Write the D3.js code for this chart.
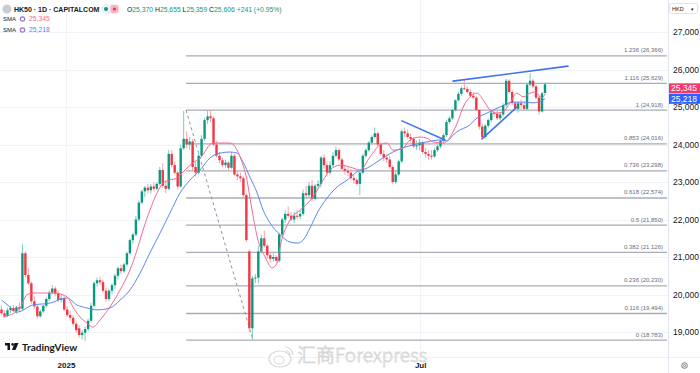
<!DOCTYPE html>
<html><head><meta charset="utf-8">
<script src="https://cdn.jsdelivr.net/npm/d3@7/dist/d3.min.js"></script>
<style>html,body{margin:0;padding:0;background:#fff;}svg{display:block;font-family:"Liberation Sans",Arial,sans-serif;}</style>
</head><body><div id="chart"></div>
<script>
// ---------------- DATA ----------------
const opens = [19600,19500,19430,19580,19640,19560,19660,19620,21100,20520,20300,19820,19680,19420,19550,19700,19880,20050,20160,20020,19860,19900,19600,19450,19380,19220,19100,18920,18980,19080,19300,19700,20300,20380,20330,20100,19880,20100,20250,20500,20700,20620,20800,21100,21450,21600,22000,22450,22750,22850,22780,22880,22820,22950,23320,22900,22820,23750,23450,23250,22880,23900,24150,24000,24080,23400,23250,23700,24150,24650,24750,24700,24000,23700,23580,23450,23520,23380,23700,23200,23150,23100,22650,21150,19100,20430,20450,21150,21500,21300,21050,20950,21000,20900,21600,22000,22150,22100,22000,22100,22080,22150,22700,22650,22900,22550,22900,22950,23650,23450,23250,23450,23700,23850,23600,23350,23300,23250,23100,23050,22950,23250,23700,23850,24050,24200,24300,24000,23750,23650,23600,23400,23000,23200,23550,24350,24300,24200,24150,23950,23980,24050,23800,23750,23700,23680,23850,23950,24100,24250,24600,24700,24920,25180,25350,25500,25480,25400,25300,25250,24920,24480,24200,24500,24650,24850,24820,24700,24800,25050,25700,25400,25100,24950,25100,25050,24950,25600,25700,25550,25250,24880,25370];
const highs = [19700,19580,19650,19700,19720,19700,19780,21350,21150,20700,20350,19950,19720,19600,19720,19920,20100,20250,20220,20100,20000,19980,19700,19560,19450,19300,19180,19050,19150,19360,19780,20350,20450,20480,20400,20180,20150,20300,20550,20750,20800,20850,21150,21500,21650,22100,22500,22800,22900,22950,22950,23000,23000,23400,23500,23050,23850,23850,23550,23300,24000,24900,24350,24200,24150,23550,23800,24250,24700,24900,24920,24750,24100,23800,23650,23600,23550,23800,23750,23300,23250,23150,22700,21200,20500,20550,21300,21600,21700,21350,21150,21100,21050,21650,22050,22250,22350,22200,22200,22250,22250,22800,22900,23000,23050,22950,23050,23700,23750,23550,23550,23800,23950,23900,23650,23450,23400,23350,23200,23100,23300,23750,23900,24100,24250,24450,24350,24050,23850,23750,23700,23450,23300,23600,24400,24450,24400,24300,24200,24100,24150,24100,23900,23850,23850,23900,24000,24150,24300,24650,24750,24950,25200,25400,25550,25720,25550,25480,25400,25300,24950,24550,24550,24700,24900,24950,24900,24850,25100,25750,25750,25450,25150,25150,25200,25150,25650,25900,25750,25600,25300,25400,25655];
const lows = [19450,19380,19400,19500,19520,19480,19560,19580,20450,20250,19750,19620,19350,19380,19500,19650,19820,20000,19950,19800,19780,19550,19400,19300,19150,18980,18850,18800,18760,19020,19250,19650,20200,20250,20050,19800,19820,20000,20150,20400,20550,20580,20750,21050,21350,21550,21950,22400,22600,22700,22700,22750,22780,22900,22850,22700,22780,23400,23200,22800,22850,23850,23900,23850,23300,23150,23200,23650,24100,24550,24600,23950,23650,23500,23400,23380,23300,23350,23150,23050,23000,22600,21400,19000,18783,20300,20300,21100,21250,20950,20850,20880,20850,20850,21550,21900,22050,21950,21900,22000,22000,22100,22550,22600,22500,22500,22800,22850,23350,23150,23200,23400,23650,23550,23300,23200,23150,23050,22950,22900,22650,23200,23650,23800,24000,24150,23950,23700,23550,23500,23350,22950,22950,23150,23500,24200,24150,24050,23900,23850,23850,23750,23650,23600,23600,23650,23800,23900,24050,24200,24550,24650,24880,25150,25300,25450,25350,25250,25200,24880,24400,24150,24150,24450,24600,24750,24650,24650,24750,25000,25350,25050,24900,24850,24950,24900,24900,25550,25500,25200,24800,24850,25359];
const closes = [19500,19430,19580,19640,19560,19660,19620,21100,20520,20300,19820,19680,19420,19550,19700,19880,20050,20160,20020,19860,19900,19600,19450,19380,19220,19050,18920,18980,19080,19300,19700,20300,20380,20330,20100,19880,20100,20250,20500,20700,20620,20800,21100,21450,21600,22000,22450,22750,22850,22780,22880,22820,22950,23320,22900,22820,23750,23450,23250,22880,23900,24150,24000,24080,23400,23250,23700,24150,24650,24750,24700,24000,23700,23580,23450,23520,23380,23700,23200,23150,23100,22650,21450,19100,20430,20450,21150,21500,21300,21050,20950,21000,20900,21600,22000,22150,22100,22000,22100,22080,22150,22700,22650,22900,22550,22900,22950,23650,23450,23250,23450,23700,23850,23600,23350,23300,23250,23100,23050,22950,23250,23700,23850,24050,24200,24300,24000,23750,23650,23600,23400,23000,23200,23550,24350,24300,24200,24150,23950,23980,24050,23800,23750,23700,23680,23850,23950,24100,24250,24600,24700,24920,25180,25350,25500,25480,25400,25300,25250,24920,24480,24200,24500,24650,24850,24820,24700,24800,25050,25700,25400,25100,24950,25100,25050,24950,25600,25700,25550,25250,24880,25365,25606];

// SMA curves (bar index, price)
const smaFastBars = [0.5,2.8,6.2,8.5,10.5,15.2,17.9,20.6,22.3,23.9,26.3,28.6,30.6,33,36.3,39.7,43,45.4,47.4,49.7,52.1,54.1,56.4,58.8,60.8,64.1,66.5,70.8,76.5,79.9,82.2,83.9,85.9,88.3,90.6,92.3,93.3,96.6,100,104.3,107.7,110,113.4,116.7,120.1,123.4,126.8,129.1,131.1,134.5,136.8,140.2,142.5,144.5,147.9,150.2,152.6,154.6,156.9,159.3,161.3,163.6,166,167.9,170.3,172.6,174.7,177,178.7,181,182];
const smaFastVals = [19400,19450,19640,19990,20040,20040,20040,19990,19910,19670,19400,19240,19130,19320,19670,20120,20650,21190,21720,22250,22710,22970,23050,23110,23270,23510,23640,24040,24040,23670,23050,22250,21450,21000,20710,20840,21270,21990,22250,22600,23050,23320,23450,23400,23320,23670,23990,24040,23850,23910,24120,24200,24170,24070,24040,24200,24570,25000,25270,25370,25190,24920,24840,24870,25110,25370,25270,25370,25400,25240,25345];
const smaSlowBars = [0,2.8,5.2,10.5,16.2,21.9,25.3,28.6,32,36.3,39.7,43,46.4,49.7,53.1,56.4,59.8,63.1,66.5,69.8,73.2,76.5,78.9,80.9,83.2,85.6,87.6,89.9,93.3,96.6,99.3,101,103.3,105.7,109,112.4,115.7,119,122.4,126.8,131.1,134.5,137.8,142.5,146.9,149.2,151.2,153.5,155.9,159.3,162.6,166.9,171.3,174.7,178,182];
const smaSlowVals = [19850,19670,19530,19720,19770,19910,19720,19640,19590,19640,19850,20120,20570,21110,21640,22170,22710,23050,23320,23640,23770,23800,23770,23530,23130,22710,22250,21910,21590,21400,21370,21450,21770,22170,22570,22870,23050,23270,23370,23590,23800,23910,23990,24070,24120,24090,24250,24390,24470,24710,24840,25000,25130,25130,25110,25218];

const priceTicks = [19000,20000,21000,22000,23000,24000,25000,26000,27000];
const timeTickBars = [21.6, 140.2];
const timeTickLabels = ["2025", "Jul"];

const fibRatios = ["1.236","1.116","1","0.853","0.736","0.618","0.5","0.382","0.236","0.116","0"];
const fibValues = [26366,25629,24918,24016,23298,22574,21850,21126,20230,19494,18783];
const fibStart = {bar: 61.8, price: 24918};
const fibEnd = {bar: 84.2, price: 18783};

const trendLines = [
  [{bar:151.2, price:25690},{bar:189.7, price:26090}],
  [{bar:134.1, price:24630},{bar:148.5, price:24120}],
  [{bar:160.9, price:24150},{bar:172.6, price:25000}]
];
const smaLast = {fast: 25345, slow: 25218};

// ---------------- LAYOUT ----------------
const W = 700, H = 373, plotR = 668, axisY = 357;
const GREEN = "#089981", RED = "#f23645";
const PINK = "#f26a93", PINKBOX = "#ef3a6c", BLUE = "#5b86f2", BLUEBOX = "#2962ff", TEXT = "#131722";
const fmt = d3.format(",");

const svg = d3.select("#chart").append("svg").attr("width", W).attr("height", H);
svg.append("rect").attr("width", W).attr("height", H).attr("fill", "#fff");

const y = d3.scaleLinear().domain([19000, 27000]).range([332, 32]);
const x = d3.scaleLinear().domain([0, closes.length - 1]).range([1.5, 545]);

svg.append("defs").append("clipPath").attr("id", "plot")
  .append("rect").attr("x", 0).attr("y", 0).attr("width", plotR).attr("height", axisY);

// grid
const grid = svg.append("g");
grid.selectAll("line.h").data(priceTicks).join("line")
  .attr("x1", 0).attr("x2", plotR).attr("y1", d => Math.round(y(d)) + 0.5).attr("y2", d => Math.round(y(d)) + 0.5)
  .attr("stroke", "#f0f3fa").attr("stroke-width", 1);
grid.selectAll("line.v").data(timeTickBars).join("line")
  .attr("x1", d => Math.round(x(d)) + 0.5).attr("x2", d => Math.round(x(d)) + 0.5).attr("y1", 0).attr("y2", axisY)
  .attr("stroke", "#f0f3fa").attr("stroke-width", 1);

const plot = svg.append("g").attr("clip-path", "url(#plot)");

// fib levels
const fx0 = x(fibStart.bar);
plot.selectAll("line.fib").data(fibValues).join("line")
  .attr("x1", fx0).attr("x2", plotR - 1)
  .attr("y1", d => y(d)).attr("y2", d => y(d))
  .attr("stroke", "#a9acb4").attr("stroke-width", 1.3);
plot.selectAll("text.fib").data(fibValues).join("text")
  .attr("x", 663).attr("y", d => y(d) - 3.5).attr("text-anchor", "end")
  .attr("font-size", 6).attr("fill", "#6a6d78")
  .text((d, i) => `${fibRatios[i]} (${fmt(d)})`);
plot.append("line")
  .attr("x1", fx0).attr("y1", y(fibStart.price)).attr("x2", x(fibEnd.bar)).attr("y2", y(fibEnd.price))
  .attr("stroke", "#8f929b").attr("stroke-width", 1).attr("stroke-dasharray", "3,3");

// candles
const idx = d3.range(closes.length);
plot.selectAll("line.wick").data(idx).join("line")
  .attr("x1", i => x(i)).attr("x2", i => x(i))
  .attr("y1", i => y(highs[i])).attr("y2", i => y(lows[i]))
  .attr("stroke", i => closes[i] >= opens[i] ? "#7fcbbd" : "#f7a3aa").attr("stroke-width", 1);
plot.selectAll("rect.body").data(idx).join("rect")
  .attr("x", i => x(i) - 1.2).attr("width", 2.4)
  .attr("y", i => y(Math.max(opens[i], closes[i])))
  .attr("height", i => Math.max(1, Math.abs(y(opens[i]) - y(closes[i]))))
  .attr("fill", i => closes[i] >= opens[i] ? GREEN : RED);

// SMA lines
const line = d3.line().x(d => x(d[0])).y(d => y(d[1])).curve(d3.curveMonotoneX);
plot.append("path").datum(smaSlowBars.map((b, i) => [b, smaSlowVals[i]]))
  .attr("d", line).attr("fill", "none").attr("stroke", BLUE).attr("stroke-width", 1);
plot.append("path").datum(smaFastBars.map((b, i) => [b, smaFastVals[i]]))
  .attr("d", line).attr("fill", "none").attr("stroke", PINK).attr("stroke-width", 1);

// trend lines
plot.selectAll("line.trend").data(trendLines).join("line")
  .attr("x1", d => x(d[0].bar)).attr("y1", d => y(d[0].price))
  .attr("x2", d => x(d[1].bar)).attr("y2", d => y(d[1].price))
  .attr("stroke", "#3f73f0").attr("stroke-width", 1.6).attr("stroke-linecap", "round");

// right axis
svg.append("line").attr("x1", plotR + 0.5).attr("x2", plotR + 0.5).attr("y1", 0).attr("y2", H).attr("stroke", "#e0e3eb");
svg.append("line").attr("x1", 0).attr("x2", W).attr("y1", axisY + 0.5).attr("y2", axisY + 0.5).attr("stroke", "#eef0f4");
const ay = svg.append("g").attr("transform", `translate(${plotR},0)`)
  .call(d3.axisRight(y).tickValues(priceTicks).tickFormat(fmt).tickSize(0).tickPadding(5));
ay.select(".domain").remove();
ay.selectAll("text").attr("font-size", 8.5).attr("fill", TEXT).attr("font-family", "Liberation Sans, Arial, sans-serif");

// bottom axis
const ax = svg.append("g").attr("transform", `translate(0,${axisY})`)
  .call(d3.axisBottom(x).tickValues(timeTickBars).tickFormat((d, i) => timeTickLabels[i]).tickSize(0).tickPadding(5));
ax.select(".domain").remove();
ax.selectAll("text").attr("font-size", 8).attr("fill", TEXT).attr("font-weight", 600).attr("font-family", "Liberation Sans, Arial, sans-serif");

// price labels on axis
const slowC = y(smaLast.slow);
const fastC = Math.min(y(smaLast.fast), slowC - 10.5);
[[smaLast.fast, fastC, PINKBOX], [smaLast.slow, slowC, BLUEBOX]].forEach(([v, c, col]) => {
  svg.append("rect").attr("x", plotR + 1).attr("y", c - 5).attr("width", W - plotR - 1).attr("height", 10).attr("fill", col);
  svg.append("text").attr("x", plotR + 16).attr("y", c + 3).attr("text-anchor", "middle")
    .attr("font-size", 8.5).attr("fill", "#fff").text(fmt(v));
});

// HKD box + gear
svg.append("rect").attr("x", 669.5).attr("y", 3.5).attr("width", 28).attr("height", 10).attr("rx", 2)
  .attr("fill", "#fff").attr("stroke", "#e0e3eb");
svg.append("text").attr("x", 672).attr("y", 11).attr("font-size", 5.5).attr("fill", TEXT).text("HKD");
svg.append("text").attr("x", 691).attr("y", 11).attr("font-size", 5).attr("fill", TEXT).text("▾");
svg.append("circle").attr("cx", 684.5).attr("cy", 365.5).attr("r", 2.8).attr("fill", "none").attr("stroke", "#555").attr("stroke-width", 0.8);
svg.append("circle").attr("cx", 684.5).attr("cy", 365.5).attr("r", 1).attr("fill", "none").attr("stroke", "#555").attr("stroke-width", 0.7);

// header legend
const last = closes.length - 1;
const chg = closes[last] - closes[last - 1];
const pct = chg / closes[last - 1] * 100;
svg.append("circle").attr("cx", 7).attr("cy", 9).attr("r", 4.5).attr("fill", "#c9ccd3");
svg.append("text").attr("x", 14).attr("y", 11.5).attr("font-size", 7).attr("fill", TEXT).attr("font-weight", 600)
  .text("HK50 · 1D · CAPITALCOM");
svg.append("rect").attr("x", 101).attr("y", 4).attr("width", 18).attr("height", 10).attr("rx", 5).attr("fill", "#eef0f4");
svg.append("circle").attr("cx", 106).attr("cy", 9).attr("r", 2).attr("fill", GREEN);
svg.append("rect").attr("x", 110.5).attr("y", 5).attr("width", 8).attr("height", 8).attr("rx", 2).attr("fill", "#f9b3c2");
svg.append("circle").attr("cx", 114.5).attr("cy", 9).attr("r", 1.6).attr("fill", RED);
const ohlc = svg.append("text").attr("x", 127).attr("y", 11.5).attr("font-size", 6.8).attr("fill", TEXT);
[["O", opens[last]], ["H", highs[last]], ["L", lows[last]], ["C", closes[last]]].forEach(([k, v]) => {
  ohlc.append("tspan").text(k);
  ohlc.append("tspan").attr("fill", GREEN).text(fmt(v) + " ");
});
ohlc.append("tspan").attr("fill", GREEN).text(`${chg >= 0 ? "+" : ""}${fmt(chg)} (${chg >= 0 ? "+" : ""}${pct.toFixed(2)}%)`);

[[smaLast.fast, PINK, 21], [smaLast.slow, BLUE, 32]].forEach(([v, col, yy]) => {
  svg.append("text").attr("x", 3).attr("y", yy).attr("font-size", 6).attr("fill", TEXT).text("SMA");
  svg.append("circle").attr("cx", 22.5).attr("cy", yy - 2).attr("r", 2.2).attr("fill", "none").attr("stroke", "#9575cd").attr("stroke-width", 1.2);
  svg.append("text").attr("x", 29).attr("y", yy).attr("font-size", 6.8).attr("fill", col).text(fmt(v));
});

// TradingView logo
const logo = svg.append("g").attr("transform", "translate(5,343)");
logo.append("rect").attr("x", 0).attr("y", 0).attr("width", 5).attr("height", 2.5).attr("fill", TEXT);
logo.append("rect").attr("x", 2.5).attr("y", 0).attr("width", 2.5).attr("height", 7).attr("fill", TEXT);
logo.append("circle").attr("cx", 7.6).attr("cy", 1.4).attr("r", 1.3).attr("fill", TEXT);
logo.append("path").attr("d", "M9.5,0 L13.5,0 L10.5,7 L7,7 Z").attr("fill", TEXT);
svg.append("text").attr("x", 22).attr("y", 350.5).attr("font-size", 10).attr("font-weight", 700).attr("fill", TEXT)
  .attr("font-family", "Lato, Liberation Sans, sans-serif").text("TradingView");

// watermark
const wm = svg.append("g").attr("opacity", 0.85);
wm.append("ellipse").attr("cx", 280).attr("cy", 359).attr("rx", 11).attr("ry", 8).attr("fill", "#fff").attr("stroke", "#d2d2d2").attr("stroke-width", 1.2);
wm.append("ellipse").attr("cx", 279).attr("cy", 360).attr("rx", 5).attr("ry", 4).attr("fill", "none").attr("stroke", "#d2d2d2").attr("stroke-width", 1);
wm.append("path").attr("d", "M285,347 a8,8 0 0 1 8,8 M286,351 a4,4 0 0 1 4,4").attr("fill", "none").attr("stroke", "#d2d2d2").attr("stroke-width", 1.2);
wm.append("text").attr("x", 297).attr("y", 362).attr("font-size", 19).attr("font-weight", 300)
  .attr("font-family", "Noto Sans CJK SC, sans-serif")
  .attr("fill", "#fbfbfb").attr("stroke", "#d2d2d2").attr("stroke-width", 0.8).text("汇商Forexpress");
</script></body></html>
